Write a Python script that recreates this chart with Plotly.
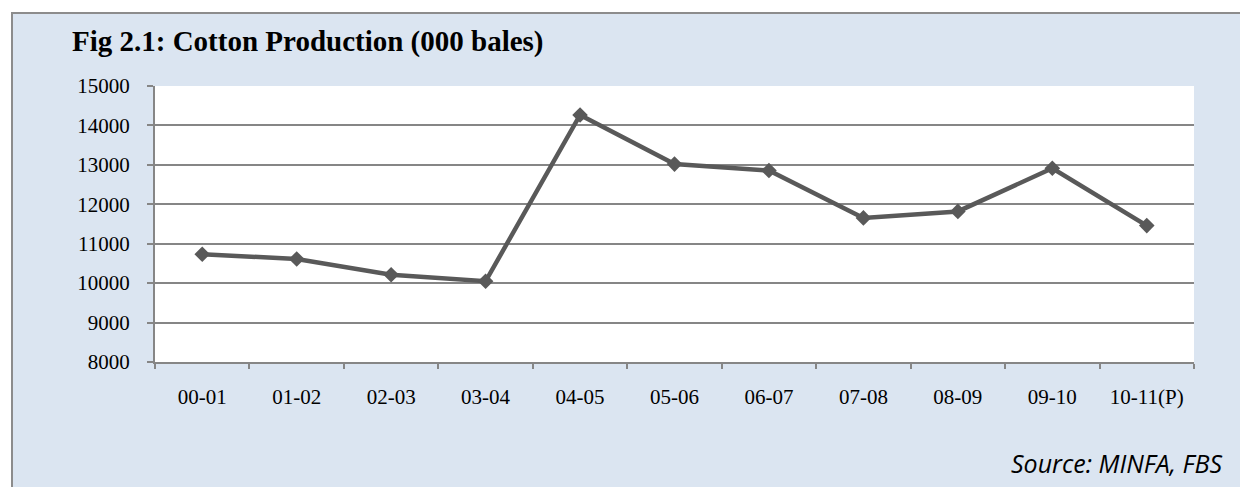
import plotly.graph_objects as go

seasons = ["00-01", "01-02", "02-03", "03-04", "04-05", "05-06",
           "06-07", "07-08", "08-09", "09-10", "10-11(P)"]
production = [10732, 10613, 10211, 10048, 14265, 13019,
              12856, 11655, 11819, 12914, 11460]
y_ticks = [8000, 9000, 10000, 11000, 12000, 13000, 14000, 15000]
y_tick_labels = ["8000", "9000", "10000", "11000", "12000", "13000", "14000", "15000"]

W, H = 1248, 487
OFF = 8  # page body margin in the browser
# plot area in page pixels
L, R, T, B = 155, 1194, 86, 362
GRID = "#868686"
LINE = "#595959"
BG = "#DBE5F1"

def px(x):
    # page x -> paper fraction
    return (x - L) / (R - L)

def py(y):
    return (B - y) / (B - T)

fig = go.Figure()
fig.add_trace(go.Scatter(
    x=seasons, y=production, mode="lines+markers",
    line=dict(color=LINE, width=4.5),
    marker=dict(symbol="diamond", size=12, color=LINE),
    showlegend=False, hoverinfo="x+y",
))

shapes = [
    # white strips outside the outer box
    dict(type="rect", xref="paper", yref="paper", x0=px(-20), x1=px(W + 20),
         y0=py(-20), y1=py(12), fillcolor="white", line_width=0, layer="above"),
    dict(type="rect", xref="paper", yref="paper", x0=px(-20), x1=px(11),
         y0=py(H + 20), y1=py(-20), fillcolor="white", line_width=0, layer="above"),
    # outer border (left and top)
    dict(type="line", xref="paper", yref="paper", x0=px(12), x1=px(12),
         y0=py(12), y1=py(H + 20), line=dict(color="#8C8C8C", width=2), layer="above"),
    dict(type="line", xref="paper", yref="paper", x0=px(11), x1=px(W + 20),
         y0=py(13), y1=py(13), line=dict(color="#8C8C8C", width=2), layer="above"),
]

annotations = [
    dict(text="<b>Fig 2.1: Cotton Production (000 bales)</b>", xref="paper", yref="paper",
         x=px(70), y=py(42), xanchor="left", yanchor="middle", showarrow=False,
         font=dict(family="Liberation Serif", size=29, color="black")),
    dict(text="<i>Source: MINFA, FBS</i>", xref="paper", yref="paper",
         x=px(1224), y=py(463), xanchor="right", yanchor="middle", showarrow=False,
         font=dict(family="Open Sans", size=25, color="black")),
]

fig.update_layout(
    width=W, height=H,
    margin=dict(l=L - OFF, r=W - R + OFF, t=T - OFF, b=H - B + OFF, pad=0),
    paper_bgcolor=BG, plot_bgcolor="white",
    shapes=shapes, annotations=annotations,
    font=dict(family="Liberation Serif", size=21, color="black"),
    xaxis=dict(
        type="category", categoryorder="array", categoryarray=seasons,
        range=[-0.5, len(seasons) - 0.5],
        showgrid=False, showline=True, linecolor=GRID, linewidth=2,
        ticks="outside", tickson="boundaries", ticklen=5, tickcolor=GRID, tickwidth=1.5,
        ticklabelstandoff=15, tickfont=dict(family="Liberation Serif", size=21),
        zeroline=False,
    ),
    yaxis=dict(
        range=[8000, 15000], tickvals=y_ticks, ticktext=y_tick_labels,
        showgrid=True, gridcolor=GRID, gridwidth=1.5,
        showline=True, linecolor=GRID, linewidth=2,
        ticks="outside", ticklen=6, tickcolor=GRID, tickwidth=1.5,
        ticklabelstandoff=13, tickfont=dict(family="Liberation Serif", size=21),
        zeroline=False,
    ),
)

fig.write_html("out.html")
